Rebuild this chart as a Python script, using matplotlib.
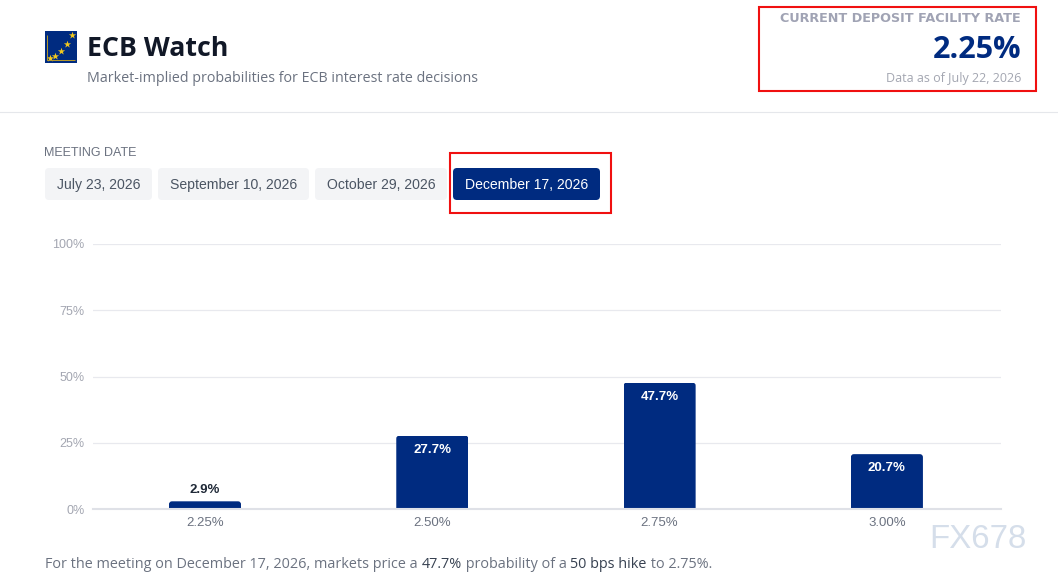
#!/usr/bin/python3
import matplotlib
matplotlib.use('Agg')
import matplotlib.pyplot as plt
from matplotlib.patches import FancyBboxPatch, Rectangle
from matplotlib.transforms import IdentityTransform

# data
rates = ['2.25%', '2.50%', '2.75%', '3.00%']
probs = [2.9, 27.7, 47.7, 20.7]
y_ticks = [0, 25, 50, 75, 100]
meeting_dates = ['July 23, 2026', 'September 10, 2026', 'October 29, 2026', 'December 17, 2026']
active_date = 'December 17, 2026'
footer_parts = [('For the meeting on December 17, 2026, markets price a ', '#6b7280'),
                ('47.7%', '#374151'),
                (' probability of a ', '#6b7280'),
                ('50 bps hike', '#374151'),
                (' to 2.75%.', '#6b7280')]

W, H = 1058, 576
NAVY = '#002b80'
UI = ['Open Sans', 'DejaVu Sans']
ARIAL = ['Liberation Sans', 'DejaVu Sans']

def px(n):
    return n * 0.72

fig = plt.figure(figsize=(W / 100, H / 100), dpi=100, facecolor='white')

# page layer in pixel coordinates
page = fig.add_axes([0, 0, 1, 1])
page.set_xlim(0, W)
page.set_ylim(H, 0)
page.axis('off')

# logo
page.add_patch(Rectangle((45, 31), 32, 32, fc=NAVY, ec='none'))
page.plot([47, 47, 75], [35, 60.3, 60.3], color='#b89a2a', lw=0.7, solid_capstyle='butt')
page.scatter([49.5, 55, 61, 66.7, 72], [58, 55.7, 50.7, 43.7, 34.7], marker='*', s=30, color='#f2c81e', lw=0)

page.text(87, 49, 'ECB Watch', fontsize=px(26.8), fontweight='bold', family=UI, color='#111827', va='center')
page.text(87, 78, 'Market-implied probabilities for ECB interest rate decisions', fontsize=px(14.28),
          family=UI, color='#6b7280', va='center')

page.text(1021, 18.5, 'CURRENT DEPOSIT FACILITY RATE', fontsize=px(12.7), fontweight='bold',
          family=['DejaVu Sans'], color='#a0a3b4', ha='right', va='center')
page.text(1021, 50, '2.25%', fontsize=px(30.5), fontweight='bold', family=UI, color=NAVY, ha='right', va='center')
page.text(1021, 78.5, 'Data as of July 22, 2026', fontsize=px(12.5), family=UI, color='#a3a6b1', ha='right', va='center')

page.plot([0, W], [111.5, 111.5], color='#e5e7eb', lw=0.8)

page.text(44, 152.5, 'MEETING DATE', fontsize=px(12.5), family=ARIAL, color='#6b7280', va='center')

# date buttons
btn_edges = [(45, 152), (158, 309), (315, 447), (453, 600)]
for label, (x0, x1) in zip(meeting_dates, btn_edges):
    on = label == active_date
    page.add_patch(FancyBboxPatch((x0 + 4, 172), x1 - x0 - 8, 24, boxstyle='round,pad=4,rounding_size=4',
                                  fc=NAVY if on else '#f3f4f6', ec='none'))
    page.text((x0 + x1) / 2, 185, label, fontsize=px(14), family=ARIAL,
              color='white' if on else '#4b5563', ha='center', va='center')

# red marks on the screenshot
page.add_patch(Rectangle((759, 6.5), 277, 84.5, fc='none', ec='#f01010', lw=1.5))
page.add_patch(Rectangle((449.5, 152.5), 161, 60, fc='none', ec='#f01010', lw=1.5))

# chart
ax = fig.add_axes([93 / W, 1 - 509 / H, 908 / W, 265 / H])
ax.patch.set_alpha(0)
x = list(range(len(rates)))
bars = ax.bar(x, probs, width=0.317, color=NAVY, zorder=3)
ax.set_xlim((93 - 205) / 227.3, (1001 - 205) / 227.3)
ax.set_ylim(0, 100)
ax.set_xticks(x)
ax.set_xticklabels(rates, fontsize=px(13.2), family=ARIAL, color='#6b7280')
ax.set_yticks(y_ticks)
ax.set_yticklabels([f'{v}%' for v in y_ticks], fontsize=px(12.5), family=ARIAL, color='#a3a6b1')
ax.tick_params(length=0)
ax.tick_params(axis='x', pad=5.5)
ax.tick_params(axis='y', pad=6)
ax.grid(axis='y', color='#e8e9ee', lw=0.9, zorder=0)
ax.set_axisbelow(True)
for s in ['top', 'right', 'left']:
    ax.spines[s].set_visible(False)
ax.spines['bottom'].set_color('#dfe1e7')
ax.spines['bottom'].set_linewidth(1.5)
ax.spines['bottom'].set_zorder(4)

# rounded top corners and value labels
fig.canvas.draw()
for bar, v in zip(bars, probs):
    (x0, y0), (x1, y1) = ax.transData.transform([(bar.get_x(), 0), (bar.get_x() + bar.get_width(), v)])
    clip = FancyBboxPatch((x0 + 3, y0 - 10), x1 - x0 - 6, y1 - y0 + 7, boxstyle='round,pad=3,rounding_size=3',
                          transform=IdentityTransform())
    bar.set_clip_path(clip)
    inside = v > 10
    ax.annotate(f'{v}%', (bar.get_x() + bar.get_width() / 2, v), xytext=(0, -px(14) if inside else px(11.5)),
                textcoords='offset points', ha='center', va='center', fontsize=px(13.2), fontweight='bold',
                family=ARIAL, color='white' if inside else '#1f2937', zorder=5)

# footer, laid out piece after piece
r = fig.canvas.get_renderer()
cx = 45
for part, col in footer_parts:
    t = page.text(cx, 564, part, fontsize=px(14.45), family=UI, color=col, va='center')
    # trailing spaces count in the advance via a guard character
    t.set_text(part + '.')
    w_guard = t.get_window_extent(r).width
    t.set_text('.')
    w_dot = t.get_window_extent(r).width
    t.set_text(part)
    cx += w_guard - w_dot

# watermark
page.text(929, 540, 'FX678', fontsize=px(33), family=ARIAL, color='#d5deea', va='center', zorder=6)

fig.savefig('out.png', dpi=100, facecolor='white')
